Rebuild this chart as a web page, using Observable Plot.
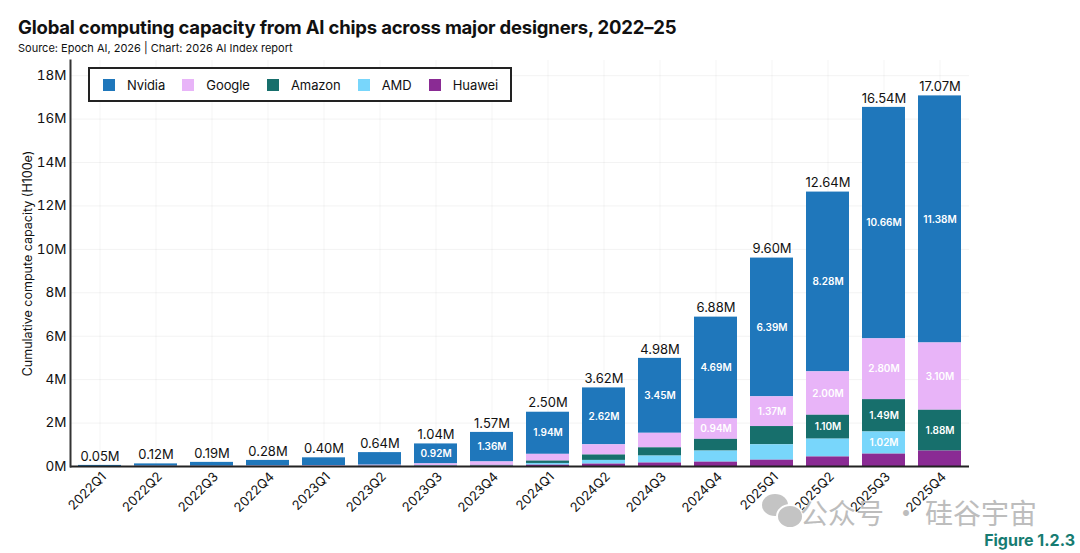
<!DOCTYPE html>
<html>
<head>
<meta charset="utf-8">
<script src="https://cdn.jsdelivr.net/npm/d3@7"></script>
<script src="https://cdn.jsdelivr.net/npm/@observablehq/plot@0.6"></script>
<style>
  body { margin: 0; width: 1080px; height: 553px; position: relative; overflow: hidden; background: #fff; font-family: Inter, "Noto Sans", sans-serif; color: #111; }
  #title { position: absolute; left: 18px; top: 16px; font-size: 18.5px; font-weight: 700; letter-spacing: -0.2px; white-space: nowrap; }
  #subtitle { position: absolute; left: 18px; top: 41px; font-size: 11px; white-space: nowrap; }
  #chart { position: absolute; left: 0; top: 55px; }
  #legend { position: absolute; left: 88px; top: 67px; width: 424px; height: 35px; box-sizing: border-box; border: 2px solid #222; background: #fff; display: flex; align-items: center; justify-content: space-between; padding: 0 12px 0 13px; font-size: 13px; letter-spacing: -0.1px; }
  .item { display: flex; align-items: center; }
  .sw { width: 12px; height: 12px; margin-right: 12px; }
  #wm1, #wm2, #wm3 { position: absolute; top: 492px; font-size: 28px; color: #bdbdbd; font-family: "Noto Sans CJK SC", sans-serif; }
  #fig { position: absolute; right: 5px; top: 530px; font-size: 16px; font-weight: 700; color: #177c72; }
  .bub { position: absolute; background: #c4c4c4; border-radius: 50%; }
</style>
</head>
<body>
<div id="title">Global computing capacity from AI chips across major designers, 2022–25</div>
<div id="subtitle">Source: Epoch AI, 2026 | Chart: 2026 AI Index report</div>
<div id="chart"></div>
<div id="legend"></div>
<div class="bub" style="left:762px;top:494px;width:26px;height:22px;"></div>
<div class="bub" style="left:776px;top:504px;width:24px;height:21px;border:2px solid #fff;"></div>
<div id="wm1" style="left:800px;">公众号</div>
<div id="wm2" style="left:892px;">·</div>
<div id="wm3" style="left:925px;">硅谷宇宙</div>
<div id="fig">Figure 1.2.3</div>
<script>
const quarters = ["2022Q1","2022Q2","2022Q3","2022Q4","2023Q1","2023Q2","2023Q3","2023Q4","2024Q1","2024Q2","2024Q3","2024Q4","2025Q1","2025Q2","2025Q3","2025Q4"];
const designers = ["Nvidia","Google","Amazon","AMD","Huawei"];
const colors = ["#1f77bb","#e8b4f8","#176f6c","#78d6fb","#8a2b94"];
const nvidia = [0.05,0.11,0.18,0.26,0.37,0.58,0.92,1.36,1.94,2.62,3.45,4.69,6.39,8.28,10.66,11.38];
const google = [0,0.01,0.01,0.02,0.03,0.05,0.09,0.16,0.31,0.47,0.67,0.94,1.37,2.00,2.80,3.10];
const amazon = [0,0,0,0,0,0.01,0.02,0.03,0.11,0.25,0.38,0.54,0.84,1.10,1.49,1.88];
const amd = [0,0,0,0,0,0,0.01,0.01,0.08,0.17,0.32,0.51,0.71,0.82,1.02,0];
const huawei = [0,0,0,0,0,0,0,0.01,0.06,0.11,0.16,0.20,0.29,0.44,0.57,0.71];
const totals = [0.05,0.12,0.19,0.28,0.40,0.64,1.04,1.57,2.50,3.62,4.98,6.88,9.60,12.64,16.54,17.07];
const yTicks = [0,2,4,6,8,10,12,14,16,18];
const yLabel = "Cumulative compute capacity (H100e)";

const series = {Nvidia: nvidia, Google: google, Amazon: amazon, AMD: amd, Huawei: huawei};
const data = [];
for (const d of designers) quarters.forEach((q, i) => data.push({quarter: q, designer: d, value: series[d][i]}));
const totalData = quarters.map((q, i) => ({quarter: q, total: totals[i]}));
const stackOrder = ["Huawei","AMD","Amazon","Google","Nvidia"];

const chart = Plot.plot({
  width: 1080,
  height: 498,
  marginTop: 5,
  marginBottom: 87,
  marginLeft: 70,
  marginRight: 111,
  style: {fontFamily: "Inter, 'Noto Sans', sans-serif", fontSize: "13px", color: "#111"},
  x: {domain: quarters, paddingInner: 0.23, paddingOuter: 0.115, label: null},
  y: {domain: [0, 18.7], label: null},
  color: {domain: designers, range: colors},
  marks: [
    Plot.gridY(yTicks, {stroke: "#000", strokeOpacity: 0.05}),
    Plot.gridX({stroke: "#000", strokeOpacity: 0.04}),
    Plot.barY(data, {x: "quarter", y: "value", fill: "designer", order: stackOrder}),
    Plot.text(data, Plot.stackY({x: "quarter", y: "value", z: "designer", order: stackOrder,
      text: d => d.value >= 0.9 ? d.value.toFixed(2) + "M" : "",
      fill: "white", fontSize: 10, fontWeight: 600})),
    Plot.text(totalData, {x: "quarter", y: "total", text: d => d.total.toFixed(2) + "M", dy: -9, fontSize: 13, fill: "#111"}),
    Plot.axisY(yTicks, {tickSize: 0, tickPadding: 4, tickFormat: d => d + "M", fontSize: 13.5, label: null}),
    Plot.axisX({tickSize: 0, tickPadding: 8, tickRotate: -45, fontSize: 13, label: null, dx: 4}),
    Plot.text([yLabel], {frameAnchor: "left", textAnchor: "middle", rotate: -90, dx: -43, fontSize: 12.5, fill: "#111"}),
    Plot.ruleY([0], {stroke: "#222", strokeWidth: 2}),
    Plot.frame({anchor: "left", stroke: "#333", strokeWidth: 2})
  ]
});
document.getElementById("chart").appendChild(chart);

const legend = document.getElementById("legend");
designers.forEach((d, i) => {
  const item = document.createElement("div");
  item.className = "item";
  const sw = document.createElement("div");
  sw.className = "sw";
  sw.style.background = colors[i];
  const t = document.createElement("span");
  t.textContent = d;
  item.appendChild(sw); item.appendChild(t);
  legend.appendChild(item);
});
</script>
</body>
</html>
